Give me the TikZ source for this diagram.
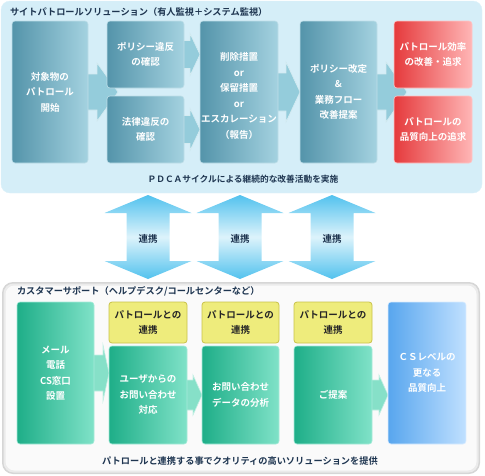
\documentclass[tikz,border=0pt]{standalone}
\usepackage{fontspec}
\setmainfont{Noto Sans CJK JP}[BoldFont={Noto Sans CJK JP Bold}]
\usetikzlibrary{calc}
\pgfdeclarelayer{back}
\pgfdeclarelayer{mid}
\pgfsetlayers{back,mid,main}
\definecolor{navy}{HTML}{1E3550}
\definecolor{toppanel}{HTML}{D5EEF8}
\definecolor{tealL}{HTML}{5494AA}
\definecolor{tealR}{HTML}{A4D2E0}
\definecolor{redL}{HTML}{E53A3C}
\definecolor{redR}{HTML}{FFB6B6}
\definecolor{grnL}{HTML}{1EAE88}
\definecolor{grnR}{HTML}{80E2C8}
\definecolor{yel}{HTML}{EEEC7C}
\definecolor{yelB}{HTML}{C9C24A}
\definecolor{bluL}{HTML}{58A6EE}
\definecolor{bluR}{HTML}{C0E0FF}
\definecolor{arrTop}{HTML}{94CCDB}
\definecolor{arrGrn}{HTML}{86E0C8}
\definecolor{dblTip}{HTML}{52C2EE}
\definecolor{dblMid}{HTML}{DDF3FB}
\newcommand\blockarrow[6]{%
  \path[#1] let \p1=#2, \p2=#3 in
    (\x1,\y1+#4pt) -- (\x2-#6pt,\y1+#4pt) -- (\x2-#6pt,\y1+#5pt) -- (\x2,\y2)
    -- (\x2-#6pt,\y1-#5pt) -- (\x2-#6pt,\y1-#4pt) -- (\x1,\y1-#4pt) -- cycle;}
\newcommand\dblarrow[3]{% #1 top tip coordinate name, #2 bottom tip name
  \path[#3] let \p1=(#1), \p2=(#2) in
    (\x1,\y1) -- (\x1+43.5pt,\y1-18pt) -- (\x1+21.5pt,\y1-18pt) -- (\x1+21.5pt,\y2+18pt)
    -- (\x1+43.5pt,\y2+18pt) -- (\x2,\y2) -- (\x1-43.5pt,\y2+18pt) -- (\x1-21.5pt,\y2+18pt)
    -- (\x1-21.5pt,\y1-18pt) -- (\x1-43.5pt,\y1-18pt) -- cycle;}
\tikzset{
  every node/.style={inner sep=0pt, outer sep=0pt},
  boxtxt/.style={text=white, font=\bfseries\fontsize{9.5}{15.5}\selectfont, align=center},
  tealbox/.style={boxtxt, draw=tealR!70!white, line width=0.6pt, rounded corners=3pt,
     left color=tealL, right color=tealR},
  redbox/.style={boxtxt, draw=redR!80!white, line width=0.6pt, rounded corners=3pt,
     left color=redL, right color=redR},
  grnbox/.style={boxtxt, draw=grnR!70!white, line width=0.6pt, rounded corners=3pt,
     left color=grnL, right color=grnR},
  blubox/.style={boxtxt, draw=bluR!60!white, line width=0.6pt, rounded corners=3pt,
     left color=bluL, right color=bluR},
  yelbox/.style={text=black!85, font=\bfseries\fontsize{9.5}{15.5}\selectfont, align=center,
     fill=yel, draw=yelB, line width=0.8pt, rounded corners=3pt},
  ttl/.style={text=navy, font=\bfseries\fontsize{9.2}{11}\selectfont},
  toparr/.style={fill=arrTop, draw=white!60!arrTop, line width=0.6pt},
  grnarr/.style={fill=arrGrn, draw=white!50!arrGrn, line width=0.6pt},
  vdbl/.style={top color=dblTip, bottom color=dblTip, middle color=dblMid},
  lnk/.style={text=navy, font=\bfseries\fontsize{9.5}{11}\selectfont},
}
\begin{document}
\begin{tikzpicture}[x=1pt,y=-1pt]
\useasboundingbox (0,0) rectangle (485,475);
% panels
\begin{pgfonlayer}{back}
  \path[fill=toppanel, draw=toppanel!80!white, rounded corners=9pt] (1,1) rectangle (482,193);
  \path[fill=black!16, rounded corners=11pt] (2,282) rectangle (480,474);
  \path[fill=black!8, rounded corners=10pt] (3.5,283.5) rectangle (478.5,472.5);
  \path[fill=black!2, rounded corners=9pt] (5.5,285.5) rectangle (476.5,470.5);
\end{pgfonlayer}
% titles
\node[ttl, anchor=west] (t1) at (10,12) {サイトパトロールソリューション（有人監視＋システム監視）};
\node[ttl, anchor=center, font=\bfseries\fontsize{8.7}{11}\selectfont] (c1) at (243,179) {ＰＤＣＡサイクルによる継続的な改善活動を実施};
\node[ttl, anchor=west] (t2) at (17,291) {カスタマーサポート（ヘルプデスク/コールセンターなど）};
\node[ttl, anchor=center] (c2) at (240,461) {パトロールと連携する事でクオリティの高いソリューションを提供};
% top boxes
\node[tealbox, minimum width=76pt, minimum height=142pt] (b1) at (50,92) {対象物の\\パトロール\\開始};
\node[tealbox, minimum width=77pt, minimum height=67pt] (b2) at (145.5,54.5) {ポリシー違反\\の確認};
\node[tealbox, minimum width=77pt, minimum height=67pt] (b3) at (145.5,129.5) {法律違反の\\確認};
\node[tealbox, minimum width=78pt, minimum height=142pt] (b4) at (239,92) {};
\node[boxtxt] (b4t) at (239,96) {削除措置\\or\\保留措置\\or\\エスカレーション\\（報告）};
\node[tealbox, minimum width=77pt, minimum height=142pt] (b5) at (338.5,92) {ポリシー改定\\\&\\業務フロー\\改善提案};
\node[redbox, minimum width=78pt, minimum height=67pt] (r1) at (433,54.5) {パトロール効率\\の改善・追求};
\node[redbox, minimum width=78pt, minimum height=67pt] (r2) at (433,129.5) {パトロールの\\品質向上の追求};
% top arrows
\coordinate (g23) at ($(b2.south west)!.5!(b3.north west)+(11,0)$);
\coordinate (gr) at ($(r1.south west)!.5!(r2.north west)+(13,0)$);
\begin{pgfonlayer}{mid}
  \blockarrow{toparr}{(b1.center)}{(g23)}{18}{29}{21}
  \blockarrow{toparr}{(b2.center)}{(b4.west |- b2.center)}{14}{21}{10}
  \blockarrow{toparr}{(b3.center)}{(b4.west |- b3.center)}{14}{21}{10}
  \blockarrow{toparr}{(b4.center)}{(b5.west)}{19}{30}{14}
  \blockarrow{toparr}{(b5.center)}{(gr)}{18}{30}{21}
\end{pgfonlayer}
% double arrows
\coordinate (u1) at (148,195); \coordinate (d1) at (148,279);
\coordinate (u2) at (240,195); \coordinate (d2) at (240,279);
\coordinate (u3) at (332,195); \coordinate (d3) at (332,279);
\dblarrow{u1}{d1}{vdbl}
\dblarrow{u2}{d2}{vdbl}
\dblarrow{u3}{d3}{vdbl}
\node[lnk] (l1) at ($(u1)!.52!(d1)$) {連携};
\node[lnk] (l2) at ($(u2)!.52!(d2)$) {連携};
\node[lnk] (l3) at ($(u3)!.52!(d3)$) {連携};
% bottom boxes
\node[grnbox, minimum width=77pt, minimum height=142pt] (g1) at (55.5,373) {メール\\電話\\CS窓口\\設置};
\node[yelbox, minimum width=78pt, minimum height=41pt] (y1) at (148,322.5) {パトロールとの\\連携};
\node[grnbox, minimum width=78pt, minimum height=98pt] (g2) at (148,395) {ユーザからの\\お問い合わせ\\対応};
\node[yelbox, minimum width=77pt, minimum height=41pt] (y2) at (240.5,322.5) {パトロールとの\\連携};
\node[grnbox, minimum width=77pt, minimum height=98pt] (g3) at (240.5,395) {お問い合わせ\\データの分析};
\node[yelbox, minimum width=78pt, minimum height=41pt] (y3) at (333,322.5) {パトロールとの\\連携};
\node[grnbox, minimum width=78pt, minimum height=98pt] (g4) at (333,395) {ご提案};
\node[blubox, minimum width=78pt, minimum height=142pt] (bl) at (427,373) {ＣＳレベルの\\更なる\\品質向上};
\begin{pgfonlayer}{mid}
  \blockarrow{grnarr}{(g1.center)}{(g2.west |- g1.center)}{18}{28}{6}
  \blockarrow{grnarr}{(g2.center)}{(g3.west |- g2.center)}{15}{20}{9}
  \blockarrow{grnarr}{(g4.center)}{(bl.west |- g4.center)}{15}{20}{9}
\end{pgfonlayer}
\end{tikzpicture}
\end{document}
